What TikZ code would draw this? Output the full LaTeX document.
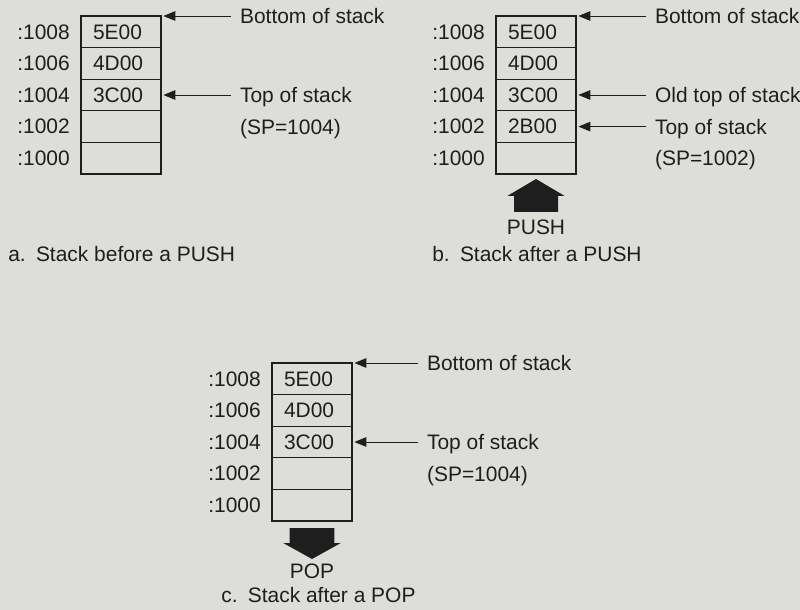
\documentclass[tikz,border=0pt]{standalone}
\usepackage{fontspec}
\setmainfont{Liberation Sans}
\usepackage{tikz}
\usetikzlibrary{arrows.meta,positioning,calc}
\definecolor{paper}{RGB}{221,221,218}
\definecolor{ink}{RGB}{30,30,30}
\tikzset{
  cell/.style={draw=ink,line width=0.9pt,minimum width=2cm,minimum height=0.79cm,outer sep=0pt,
    text width=1.4cm,align=left,inner xsep=0.3cm,inner ysep=0pt,text=ink},
  addr/.style={inner sep=0pt,text=ink},
  note/.style={anchor=west,inner xsep=0.22cm,inner ysep=0pt,text height=0.4cm,text depth=0.02cm,text=ink},
  ptr/.style={-{Triangle[length=0.3cm,width=0.24cm]},line width=0.6pt,draw=ink,shorten >=0.06cm},
  bigarrow/.style={fill=ink},
  caption/.style={anchor=west,inner sep=0pt,text=ink}
}

\begin{document}
\begin{tikzpicture}[font=\fontsize{14.9pt}{18pt}\selectfont]
  \path[use as bounding box,fill=paper] (0,0) rectangle (20,-15.25);

  % a. before the push
  \node[cell,anchor=north west] (a8) at (2.025,-0.4) {5E00};
  \node[cell,below=0pt of a8] (a6) {4D00};
  \node[cell,below=0pt of a6] (a4) {3C00};
  \node[cell,below=0pt of a4] (a2) {};
  \node[cell,below=0pt of a2] (a0) {};
  \node[note,right=1.75cm of a8.north east] (abot) {Bottom of stack};
  \node[note,right=1.75cm of a4] (atop) {Top of stack};
  \node[note,right=1.75cm of a2] (asp) {(SP=1004)};
  \draw[ptr] (abot) -- (a8.north east);
  \draw[ptr] (atop) -- (a4);
  \node[caption] (acap) at (0.2,-6.35) {a.\hspace{0.12em} Stack before a PUSH};

  % b. after the push
  \node[cell,anchor=north west] (b8) at (12.4,-0.4) {5E00};
  \node[cell,below=0pt of b8] (b6) {4D00};
  \node[cell,below=0pt of b6] (b4) {3C00};
  \node[cell,below=0pt of b4] (b2) {2B00};
  \node[cell,below=0pt of b2] (b0) {};
  \node[note,right=1.75cm of b8.north east] (bbot) {Bottom of stack};
  \node[note,right=1.75cm of b4] (bold) {Old top of stack};
  \node[note,right=1.75cm of b2] (btop) {Top of stack};
  \node[note,right=1.75cm of b0] (bsp) {(SP=1002)};
  \draw[ptr] (bbot) -- (b8.north east);
  \draw[ptr] (bold) -- (b4);
  \draw[ptr] (btop) -- (b2);
  \coordinate[below=0.125cm of b0.south] (pushtip);
  \fill[bigarrow] (pushtip) -- ++(0.71,-0.42) -- ++(-0.16,0) -- ++(0,-0.405)
    -- ++(-1.1,0) -- ++(0,0.405) -- ++(-0.16,0) -- cycle;
  \node[addr] (pushlbl) at ($(pushtip)+(0,-1.2)$) {PUSH};
  \node[caption] (bcap) at (10.8,-6.35) {b.\hspace{0.12em} Stack after a PUSH};

  % c. after the pop
  \node[cell,anchor=north west] (c8) at (6.8,-9.075) {5E00};
  \node[cell,below=0pt of c8] (c6) {4D00};
  \node[cell,below=0pt of c6] (c4) {3C00};
  \node[cell,below=0pt of c4] (c2) {};
  \node[cell,below=0pt of c2] (c0) {};
  \node[note,right=1.65cm of c8.north east] (cbot) {Bottom of stack};
  \node[note,right=1.65cm of c4] (ctop) {Top of stack};
  \node[note,right=1.65cm of c2] (csp) {(SP=1004)};
  \draw[ptr] (cbot) -- (c8.north east);
  \draw[ptr] (ctop) -- (c4);
  \coordinate[below=0.175cm of c0.south] (popbase);
  \fill[bigarrow] (popbase) ++(-0.56,0) -- ++(1.12,0) -- ++(0,-0.375) -- ++(0.16,0)
    -- ++(-0.72,-0.4) -- ++(-0.72,0.4) -- ++(0.16,0) -- cycle;
  \node[addr] (poplbl) at ($(c0.south)+(0,-1.25)$) {POP};
  \node[caption] (ccap) at (5.525,-14.875) {c.\hspace{0.12em} Stack after a POP};

  % addresses
  \foreach \s in {a,b,c}
    \foreach \n in {8,6,4,2,0}
      \node[addr,left=0.275cm of \s\n] (\s\n-addr) {:100\n};
\end{tikzpicture}
\end{document}
